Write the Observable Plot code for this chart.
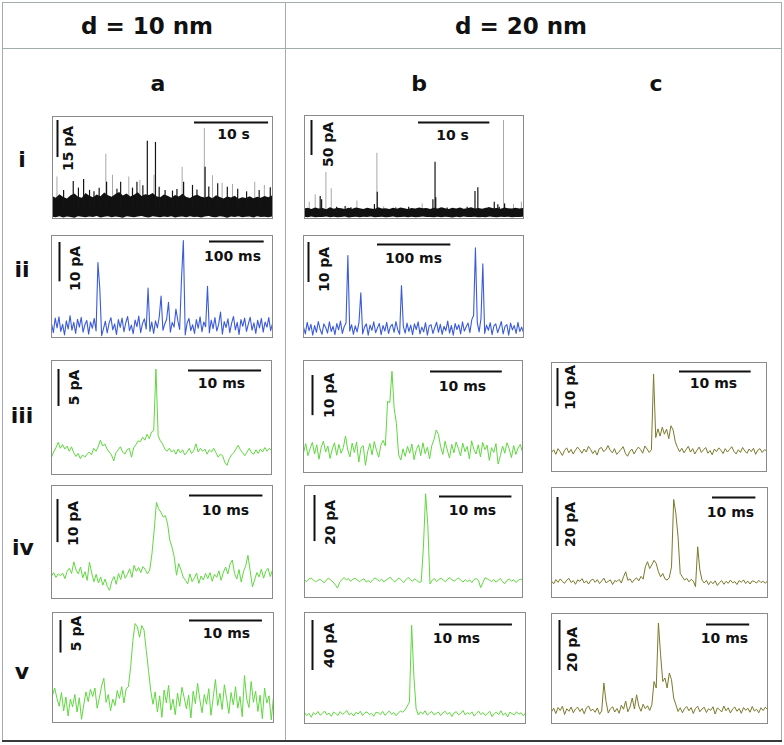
<!DOCTYPE html>
<html><head><meta charset="utf-8">
<script src="https://cdn.jsdelivr.net/npm/d3@7"></script>
<script src="https://cdn.jsdelivr.net/npm/@observablehq/plot@0.6"></script>
<style>
body{margin:0;background:#fff;}
#fig{position:relative;width:784px;height:745px;background:#fff;font-family:"DejaVu Sans",Verdana,sans-serif;overflow:hidden;}
.t{position:absolute;font-weight:bold;white-space:nowrap;transform:translate(-50%,-50%);line-height:1;color:#111;}
.ln{position:absolute;background:#a3adad;}
</style></head><body><div id="fig"></div>
<script>
// ---------- text ----------
const headerTitles = ["d = 10 nm", "d = 20 nm"];
const columnLetters = ["a", "b", "c"];
const rowNumerals = ["i", "ii", "iii", "iv", "v"];

// ---------- panels ----------
const panelIds   = ["a-i","b-i","a-ii","b-ii","a-iii","b-iii","c-iii","a-iv","b-iv","c-iv","a-v","b-v","c-v"];
const currentBar = [15, 50, 10, 10, 5, 10, 10, 10, 20, 20, 5, 40, 20];        // pA
const timeBar    = [10, 10, 100, 100, 10, 10, 10, 10, 10, 10, 10, 10, 10];
const timeUnit   = ["s","s","ms","ms","ms","ms","ms","ms","ms","ms","ms","ms","ms"];
const traceSpan  = [29.7, 30.7, 404, 300, 30.1, 30.5, 30, 30.1, 30.1, 49.8, 30.3, 30.3, 50];
const currentRange = [[-4.3,37.0],[-7.9,139.3],[-3.05,22.9],[-2.2,23.3],[-3.24,12.16],[-5.4,22.5],[-5.4,23.2],[-5.4,20.8],[-7.3,41.3],[-6.4,38.5],[-3.4,13.5],[-7.8,81],[-5.5,38.5]];

// row i: dense recordings as envelope (pA) + events
const aI_hi = [4.6,3.9,5.3,4.2,3.6,4.9,5.6,4.3,3.9,5.8,4.7,4.1,5.2,4.5,6.0,4.9,4.3,5.4,6.2,4.8,5.6,4.4,5.1,6.1,4.6,5.3,5.0,5.8,4.5,4.1,5.2,4.7,3.9,5.0,4.4,5.5,4.2,3.8,4.7,5.1,4.3,4.0,4.5,3.7,4.9,4.2,3.6,4.4,4.0,4.7,3.5,4.1,3.8,4.5,3.7,4.3,3.9,4.6,4.1,4.8];
const aI_lo = [-3.8,-4.0,-3.6,-4.1,-3.7,-3.9,-4.2,-3.6,-3.8,-4.0,-3.7,-3.9,-3.5,-4.1,-3.8,-3.6,-4.0,-3.7,-3.9,-4.2,-3.6,-3.8,-4.0,-3.7,-3.5,-3.9,-4.1,-3.6,-3.8,-4.0,-3.7,-3.9,-3.6,-4.1,-3.8,-3.7,-4.0,-3.6,-3.9,-3.8,-4.1,-3.7,-3.5,-3.9,-4.0,-3.6,-3.8,-4.2,-3.7,-3.9,-3.6,-4.0,-3.8,-3.7,-4.1,-3.6,-3.9,-3.8,-4.0,-3.7];
const aI_eventT = [0.6,2.8,4.2,5.0,6.3,7.2,7.3,8.1,9.2,10.3,11.4,11.8,12.8,13.7,13.9,14.4,16.8,17.5,17.7,18.9,20.5,20.6,21.6,22.3,22.9,23.6,24.3,27.3,28.6,29.4,1.5,3.5,5.6,8.7,10.8,12.2,15.2,16.2,19.5,21.1,25.0,26.2,27.9];
const aI_eventH = [12.5,10.7,11.5,7.1,7.9,21.7,10.4,13.2,10.4,12.5,10.4,11.1,27.0,13.2,26.5,8.4,7.4,16.4,10.4,9.1,32.2,16.5,13.0,9.8,10.0,8.4,9.5,10.4,9.1,8.2,7.0,8.0,6.5,7.5,8.0,9.0,7.0,6.8,7.2,8.5,7.5,6.5,7.0];
const aI_eventTone = ["g","k","k","k","k","g","k","g","k","g","k","g","k","g","k","k","k","g","k","k","g","k","g","k","g","k","g","g","g","k","k","k","k","k","k","k","k","k","k","k","k","k","k"];

const bI_hi = [5.5,6.8,4.9,7.2,5.8,6.3,4.7,7.5,5.2,6.6,5.9,4.8,6.9,5.4,7.1,6.0,5.1,6.7,5.6,4.9,7.3,5.7,6.2,5.0,6.8,5.3,7.0,6.1,4.8,6.5,5.5,7.2,5.9,6.4,5.0,6.9,5.6,7.4,6.2,5.1,6.6,5.8,7.1,5.3,6.0,7.6,5.7,6.3,5.2,6.8,7.3,5.9,6.5,5.4,7.0,6.1,5.6,6.9,5.8,6.4];
const bI_lo = [-6.2,-6.8,-5.9,-7.0,-6.4,-6.6,-5.8,-6.9,-6.1,-6.7,-6.3,-5.9,-7.1,-6.5,-6.0,-6.8,-6.2,-6.6,-5.9,-7.0,-6.4,-6.1,-6.8,-6.3,-5.8,-6.9,-6.5,-6.0,-6.7,-6.2,-7.0,-6.4,-5.9,-6.6,-6.3,-6.9,-6.1,-6.7,-6.0,-6.5,-7.1,-6.2,-6.8,-5.9,-6.4,-6.6,-6.1,-7.0,-6.3,-6.7,-5.9,-6.5,-6.9,-6.2,-6.6,-6.0,-6.8,-6.3,-6.5,-6.1];
const bI_eventT = [0.66,1.5,2.2,2.4,3.0,3.75,5.7,7.35,9.8,10.15,10.2,11.1,16.5,18.0,18.3,18.4,21.9,23.9,24.3,25.8,26.6,27.1,27.3,27.9,28.05,29.3,30.4,4.5,6.5,12.8,14.6,20.0,22.8];
const bI_eventH = [15.4,26,23.6,18.9,58,34.6,9.3,16.9,12,85.4,29.7,8.8,13,18.9,72.6,21.7,6.9,30.7,36,7.4,15.4,11.7,8.3,132,13,12,15.4,8,7.5,7,8,7,8];
const bI_eventTone = ["g","g","k","k","g","g","k","g","k","g","k","g","g","k","k","k","g","k","k","k","k","k","k","g","k","g","g","k","k","k","k","k","k"];

// row ii: current traces (pA)
const aII = [0.5,-1.8,1.9,-0.6,2.2,-1.5,0.3,-2.4,1.2,-0.9, 2.5,-1.2,0.8,-2.0,1.6,-0.4,2.1,-1.7,0.2,1.3, -2.2,0.9,-0.7,1.8,-1.4,16.0,9.5,-2.6,-0.8,1.1, -1.9,0.6,2.0,-1.1,0.4,-2.3,1.5,-0.5,1.9,-1.6, 0.7,2.3,-1.3,0.1,-2.1,1.4,-0.3,2.4,-1.8,0.5, 1.7,-0.9,9.5,-1.5,0.9,-2.0,1.2,-0.6,2.1,7.5, -1.2,0.4,1.6,5.9,-1.7,0.8,-0.4,4.2,1.3,-1.0, 11.9,21.6,-2.4,0.6,1.8,-1.3,0.2,-2.0,1.5,-0.7, 2.2,-1.6,0.9,-0.3,10.0,-1.9,1.4,-0.8,2.0,-1.4, 0.3,3.4,-2.2,1.0,-0.5,1.7,-1.8,0.6,2.3,-1.1, 0.8,-2.3,1.5,-0.2,1.9,-1.5,0.4,2.1,-1.2,0.7, -2.0,1.3,-0.6,1.8,-1.7,0.9,-0.4,2.0,-1.3,0.5];
const bII = [0.4,-1.3,1.6,-0.5,1.1,-1.6,0.8,-0.9,1.8,-0.2, -1.4,1.2,0.3,-1.1,1.7,-0.7,0.6,-1.5,1.3,-0.3, 1.9,-1.2,0.5,1.4,18.3,-0.6,1.0,-1.4,0.7,-0.8, 1.5,9.0,-1.3,0.4,1.2,-1.6,0.9,-0.4,1.7,-1.0, 0.2,1.3,-1.5,0.8,-0.6,1.6,-1.2,0.5,1.1,-0.9, 1.8,-0.3,-1.4,10.8,0.6,-1.1,1.4,-0.7,0.9,-1.5, 1.2,-0.2,1.7,-1.3,0.4,-0.8,1.5,-1.6,0.7,1.0, -1.2,0.3,1.6,-0.9,1.1,-1.4,0.6,-0.5,1.9,-1.1, 0.8,-1.6,1.3,-0.2,1.0,-1.3,1.7,-0.6,0.5,1.4, -1.0,2.2,3.3,20.2,1.5,-0.8,2.5,16.2,-1.2,0.9, -0.4,1.5,-1.5,0.7,1.2,-1.0,0.3,1.8,-1.3,0.6, 1.0,-1.6,1.4,-0.3,0.8,-1.2,1.6,-0.7,0.4,-1.0];

// rows iii-v: single-event traces (pA)
const aIII = [-0.9,-0.2,0.4,1.1,0.3,0.8,0.2,0.6,-0.1,0.5, -0.3,-0.8,-0.4,-1.1,-0.6,-0.9,-0.5,-0.2,-0.6,0.3, -0.1,0.5,1.4,0.6,0.9,0.2,-0.2,-0.6,-1.4,-0.3, 0.1,0.5,-0.2,-0.5,0.1,0.3,-0.9,0.4,0.8,1.3, 1.2,1.8,1.4,2.2,1.6,2.5,2.7,11.0,2.0,1.3, 0.9,0.2,-0.1,0.3,-0.2,0.1,-0.5,0.2,-0.3,0.1, -0.6,-0.2,0.3,-0.4,0.0,0.9,-0.2,0.3,-0.1,0.2, -0.5,0.1,-0.2,0.3,-0.3,-0.9,-0.5,-0.7,-1.6,-2.0, -1.1,-0.6,-0.3,0.2,0.7,0.1,-0.3,-0.7,-0.2,0.3, -0.3,-0.5,0.1,-0.4,0.2,-0.2,0.4,-0.1,0.3,0.0];
const bIII = [-0.5,1.8,-1.2,0.6,2.1,-0.8,1.5,-2.1,0.9,2.4, -0.3,1.2,-1.9,0.4,2.0,-1.1,1.6,-0.6,0.8,3.7, 0.2,-1.5,1.9,-0.4,2.2,-2.8,0.7,1.3,-3.6,-0.2, 1.8,-1.0,2.3,0.1,-1.6,1.4,2.6,1.2,12.3,12.0, 19.8,10.5,6.8,-1.0,-2.3,0.5,-1.4,1.1,-0.6,1.7, -2.2,0.3,1.5,-1.2,2.0,-0.7,0.9,-2.0,1.3,2.8, 5.2,4.1,1.0,-0.9,2.4,0.2,-1.8,1.6,-0.5,2.2, 0.6,-1.3,1.9,-0.2,1.1,-2.0,2.5,0.4,-0.8,1.5, -1.5,2.1,0.3,1.4,-2.4,0.8,-0.4,1.8,-3.3,-1.2, 1.2,-0.6,2.0,0.5,-1.7,1.3,-0.9,0.7,1.6,-0.3];
const cIII = [-0.4,0.3,-0.9,0.6,-0.2,-1.2,0.1,0.8,-0.5,0.4, -0.8,0.2,1.0,0.3,-0.6,0.5,-0.3,1.2,0.4,-0.7, 0.1,-1.1,0.6,0.9,-0.2,0.3,1.4,0.2,-0.5,0.6, -0.9,-0.3,0.4,1.1,-0.6,-1.4,-0.2,0.5,-0.8,0.2, 1.0,0.4,-0.6,1.3,0.5,-0.4,0.3,20.2,3.5,5.8, 3.9,6.2,4.4,5.7,3.2,6.6,5.5,2.4,0.9,-0.2, 0.7,-0.5,0.4,1.2,-0.3,0.6,-0.8,0.2,1.0,-0.4, 0.3,0.9,-0.6,0.1,-1.0,0.5,-0.2,0.8,0.2,-0.7, 0.6,-0.3,0.4,1.1,-0.1,-0.8,0.3,-0.4,0.9,0.0, -0.6,0.5,-0.2,0.7,-0.9,0.2,0.6,-0.4,0.3,0.1];
const aIV = [-0.2,0.6,-0.5,0.3,-0.1,0.5,-0.8,0.9,1.6,0.4, 3.1,1.2,0.3,1.9,-0.6,0.8,-1.2,3.0,0.5,-1.5, 0.2,-1.8,-0.4,-2.3,-0.9,-2.6,-3.5,-1.4,-0.3,-2.1, 0.4,-1.0,1.1,-0.7,0.2,1.5,-0.5,2.3,0.9,1.8, 0.6,2.0,1.3,0.3,1.2,5.0,10.4,16.9,15.4,14.6, 13.5,13.8,11.9,8.1,6.5,4.2,0.0,2.7,1.2,-0.4, -1.2,-2.0,0.3,-1.5,-0.6,0.5,-1.9,-0.2,-1.1,0.4, -0.8,0.6,-1.4,0.2,-0.5,1.0,-1.2,0.7,1.9,0.3, 2.6,3.5,0.4,-0.9,1.3,-1.6,0.8,2.2,4.6,1.0, -2.7,-1.1,0.6,-0.4,1.4,-0.7,0.9,1.6,-0.3,1.2];
const bIV = [0.2,-0.4,0.7,1.2,0.3,-0.5,0.1,0.6,-0.2,-0.9, 0.4,1.0,0.2,-0.6,-1.8,-3.2,-0.7,0.5,1.3,0.4, 0.9,-0.3,0.6,1.1,0.2,-0.4,0.3,0.8,-0.6,0.1, -0.8,0.4,1.2,0.5,-0.2,0.7,-0.5,0.2,0.9,1.5, 0.3,-0.6,0.5,1.1,0.2,-0.8,0.4,1.4,0.6,-0.3, 0.8,0.1,-0.7,-0.5,14.5,37.7,24.0,-1.4,0.2,0.9, -0.4,0.5,1.0,0.3,-0.5,0.7,1.3,0.4,-0.2,0.6, 1.1,0.2,-0.6,0.4,-0.4,0.3,-0.8,0.5,0.9,0.1, -3.0,-0.9,1.3,0.8,0.2,-0.4,0.5,-0.7,0.3,0.9, -0.5,-1.3,0.2,0.7,-0.2,0.4,-0.8,0.1,0.6,0.3];
const cIV = [0.3,-0.8,0.9,-0.2,1.2,0.1,-0.6,0.7,1.4,-0.3, 0.5,-1.0,0.8,0.2,1.3,-0.5,0.4,-0.9,0.6,1.1, -0.2,0.9,-0.7,0.3,1.5,-0.4,0.2,0.8,-1.1,0.5, 0.1,1.0,-0.5,2.0,4.1,0.6,1.2,-0.3,0.9,1.6, 0.4,2.2,1.1,6.1,8.2,5.4,7.0,8.8,7.5,4.1, 2.0,3.4,1.2,0.7,1.8,6.1,33.6,27.9,18.4,3.4, 2.0,0.7,1.4,0.0,1.0,0.3,-2.0,14.3,4.8,0.7, -0.5,0.6,-1.2,0.2,-0.8,0.4,-1.5,-0.3,0.5,-1.0, 0.2,-0.6,0.7,-0.4,0.1,-1.1,0.5,-0.2,0.8,-0.7, 0.3,-0.9,0.4,0.1,-0.5,0.6,-0.3,0.2,-0.6,0.4];
const aV = [0.8,1.9,0.3,-0.9,1.2,-1.6,0.5,-2.4,0.2,-1.0, 0.9,-1.8,0.4,-2.9,-0.7,1.3,-0.2,1.7,0.6,1.9, -1.2,0.4,2.2,3.4,-0.3,0.9,-1.6,0.2,-0.8,1.5, 0.3,2.1,-0.4,1.8,2.1,5.1,9.2,11.8,11.3,9.7, 11.5,10.8,7.7,4.6,1.5,-0.6,1.3,-1.8,0.7,-2.6, 1.6,-0.4,2.3,-1.5,0.2,-2.2,1.1,-0.9,2.0,0.4, -1.3,0.8,-2.7,1.4,-0.5,2.6,0.1,-1.9,0.9,-0.6, 1.8,-2.3,0.5,3.2,-0.8,1.1,-1.4,2.4,0.3,-2.0, 1.2,-0.7,2.1,-1.2,0.6,-2.5,3.8,0.2,-1.1,2.9, -0.3,1.4,-1.7,0.8,-2.8,1.9,-0.4,0.7,-3.0,0.5];
const bV = [1.2,-1.5,0.4,-2.8,0.9,-0.6,1.8,-1.1,0.3,2.2, -0.8,0.6,-2.1,1.4,0.2,-1.3,1.7,-0.4,0.9,2.5, -0.9,0.5,-1.8,1.1,-0.2,2.0,-1.4,0.7,1.5,-0.6, 0.3,-2.0,1.2,0.8,-0.7,1.9,-1.2,0.4,2.3,-0.5, 1.0,-1.6,0.6,2.1,1.3,3.0,6.0,9.3,70.7,30.0, 4.0,-1.0,1.6,-0.3,2.4,-1.1,0.5,1.8,-0.8,0.2, 1.4,-1.5,0.7,2.0,-0.4,1.1,-2.2,0.6,1.7,-0.9, 0.4,2.6,-1.0,0.8,-0.3,1.5,-1.9,0.2,2.1,-0.6, 1.0,-1.4,0.5,1.9,-2.3,0.3,1.2,-0.8,2.4,-1.2, 0.7,-2.6,1.3,0.1,-0.9,1.6,-0.4,0.8,-1.7,0.6];
const cV = [-0.8,0.6,-1.5,0.9,-0.3,1.4,-1.9,0.4,-0.6,1.1, -1.2,0.3,1.0,-0.7,0.5,-1.6,0.8,1.5,-0.4,0.2, -1.0,0.7,-1.8,-0.5,10.7,3.3,-1.3,0.4,1.2,-0.9, 0.5,-1.4,1.8,0.2,3.5,-0.8,1.1,4.7,0.3,6.0, 1.5,-0.6,2.2,0.4,1.6,-0.3,2.0,11.3,8.7,34.7, 22.0,11.3,12.7,8.7,14.7,12.0,4.7,2.0,-0.7,0.8, -1.2,0.5,1.3,-0.4,0.9,-1.5,0.6,1.4,-0.8,0.3, 1.0,-1.1,0.4,-0.2,1.2,-1.7,0.7,0.1,-0.9,1.5, -0.4,0.8,-1.3,0.3,1.1,-0.6,0.5,-1.4,0.9,-0.2, 0.6,-1.0,1.3,-0.5,0.2,-1.2,0.8,-0.3,1.0,0.1];

// ---------- layout (pixels in the 784x745 figure) ----------
const boxes   = [[52,116,272,218],[304,115,523,218],[51,235,272,337],[303,235,523,337],[51,360,271,474],[303,360,522,472],[551,362,766,471],[51,485,272,598],[304,485,522,597],[551,487,767,597],[52,612,273,722],[304,612,525,723],[551,613,767,723]];
const vbarPos = [[57,120],[311,120],[59,242],[308,242],[58,369],[312,375],[557,368],[57,499],[314,495],[557,497],[60,620],[312,620],[559,620]];
const hbarPos = [[194,122],[418,122],[209,241],[377,244],[188,370],[430,371],[679,371],[189,495],[439,496],[712,497],[189,620],[439,624],[706,624]];
const vLabPos = [[68,148],[328,144],[75,268],[324,269],[74,387],[329,395],[570,387],[73,523],[330,522],[570,524],[76,633],[329,645],[572,649]];
const hLabPos = [[233,134],[452,135],[232,256],[413,258],[221,383],[462,386],[713,383],[225,510],[472,510],[730,512],[226,633],[456,638],[724,638]];
const GREEN = "#5fd83f", OLIVE = "#7b7a2c", BLUE = "#3b5bdb";

const fig = document.getElementById("fig");

function addText(txt, cx, cy, size) {
  const d = document.createElement("div");
  d.className = "t"; d.textContent = txt;
  d.style.left = cx + "px"; d.style.top = cy + "px"; d.style.fontSize = size + "px";
  fig.appendChild(d);
}
function addLine(x, y, w, h, color) {
  const d = document.createElement("div");
  d.className = "ln";
  Object.assign(d.style, {left: x + "px", top: y + "px", width: w + "px", height: h + "px"});
  if (color) d.style.background = color;
  fig.appendChild(d);
}

// table lines
addLine(2, 2, 780, 1);
addLine(2, 2, 1, 740);
addLine(781, 2, 1, 740);
addLine(2, 48, 780, 1);
addLine(285, 2, 1, 740);
addLine(2, 740, 780, 2, "#3a3a3a");

addText(headerTitles[0], 147, 26, 23);
addText(headerTitles[1], 521, 26, 23);
addText(columnLetters[0], 158, 84, 22);
addText(columnLetters[1], 419, 84, 22);
addText(columnLetters[2], 656, 84, 22);
[[22,160],[22,270],[22,416],[23,548],[22,672]].forEach((p, i) => addText(rowNumerals[i], p[0], p[1], 22));

function drawPanel(i, marks) {
  const [x0, y0, x1, y1] = boxes[i];
  const w = x1 - x0, h = y1 - y0;
  const span = traceSpan[i];
  const [lo, hi] = currentRange[i];
  const xd = px => (px - x0) / w * span;
  const yd = py => hi - (py - y0) / h * (hi - lo);
  const [vx, vy] = vbarPos[i], [hx, hy] = hbarPos[i];
  const lab = {frameAnchor: "top-left", text: d => d, fontSize: 14, fontWeight: "bold", fill: "#111", textAnchor: "middle", lineAnchor: "middle"};
  const bars = [
    Plot.ruleX([{x: xd(vx), y1: yd(vy), y2: yd(vy) - currentBar[i]}], {x: "x", y1: "y1", y2: "y2", stroke: "#111", strokeWidth: 2}),
    Plot.ruleY([{y: yd(hy), x1: xd(hx), x2: xd(hx) + timeBar[i]}], {y: "y", x1: "x1", x2: "x2", stroke: "#111", strokeWidth: 2}),
    Plot.text([`${currentBar[i]} pA`], {...lab, dx: vLabPos[i][0] - x0, dy: vLabPos[i][1] - y0, rotate: -90}),
    Plot.text([`${timeBar[i]} ${timeUnit[i]}`], {...lab, dx: hLabPos[i][0] - x0, dy: hLabPos[i][1] - y0})
  ];
  const svg = Plot.plot({
    width: w + 2, height: h + 2, margin: 1,
    x: {domain: [0, span], axis: null},
    y: {domain: [lo, hi], axis: null},
    style: {background: "#fff", fontFamily: "DejaVu Sans, Verdana, sans-serif", overflow: "visible"},
    marks: [...marks, Plot.frame({stroke: "#8a8a8a"}), ...bars]
  });
  svg.style.position = "absolute";
  svg.style.left = (x0 - 1) + "px";
  svg.style.top = (y0 - 1) + "px";
  fig.appendChild(svg);
}

function denseMarks(span, hiArr, loArr, tArr, hArr, toneArr) {
  const band = hiArr.map((v, k) => ({t: k * span / (hiArr.length - 1), hi: v, lo: loArr[k]}));
  const ev = tArr.map((t, k) => ({t, h: hArr[k], base: 0, tone: toneArr[k]}));
  return [
    Plot.ruleX(ev.filter(e => e.tone === "g"), {x: "t", y1: "base", y2: "h", stroke: "#a8a8a8", strokeWidth: 1, clip: true}),
    Plot.areaY(band, {x: "t", y1: "lo", y2: "hi", fill: "#111", clip: true}),
    Plot.ruleX(ev.filter(e => e.tone === "k"), {x: "t", y1: "base", y2: "h", stroke: "#151515", strokeWidth: 1.2, clip: true})
  ];
}
function traceMarks(values, span, color, sw) {
  return [Plot.line(values, {x: (d, k) => k * span / (values.length - 1), y: d => d, stroke: color, strokeWidth: sw || 1, clip: true})];
}

drawPanel(0, denseMarks(traceSpan[0], aI_hi, aI_lo, aI_eventT, aI_eventH, aI_eventTone));
drawPanel(1, denseMarks(traceSpan[1], bI_hi, bI_lo, bI_eventT, bI_eventH, bI_eventTone));
drawPanel(2, traceMarks(aII, traceSpan[2], BLUE, 1.1));
drawPanel(3, traceMarks(bII, traceSpan[3], BLUE, 1.1));
drawPanel(4, traceMarks(aIII, traceSpan[4], GREEN));
drawPanel(5, traceMarks(bIII, traceSpan[5], GREEN));
drawPanel(6, traceMarks(cIII, traceSpan[6], OLIVE));
drawPanel(7, traceMarks(aIV, traceSpan[7], GREEN));
drawPanel(8, traceMarks(bIV, traceSpan[8], GREEN));
drawPanel(9, traceMarks(cIV, traceSpan[9], OLIVE));
drawPanel(10, traceMarks(aV, traceSpan[10], GREEN));
drawPanel(11, traceMarks(bV, traceSpan[11], GREEN));
drawPanel(12, traceMarks(cV, traceSpan[12], OLIVE));
</script></body></html>
